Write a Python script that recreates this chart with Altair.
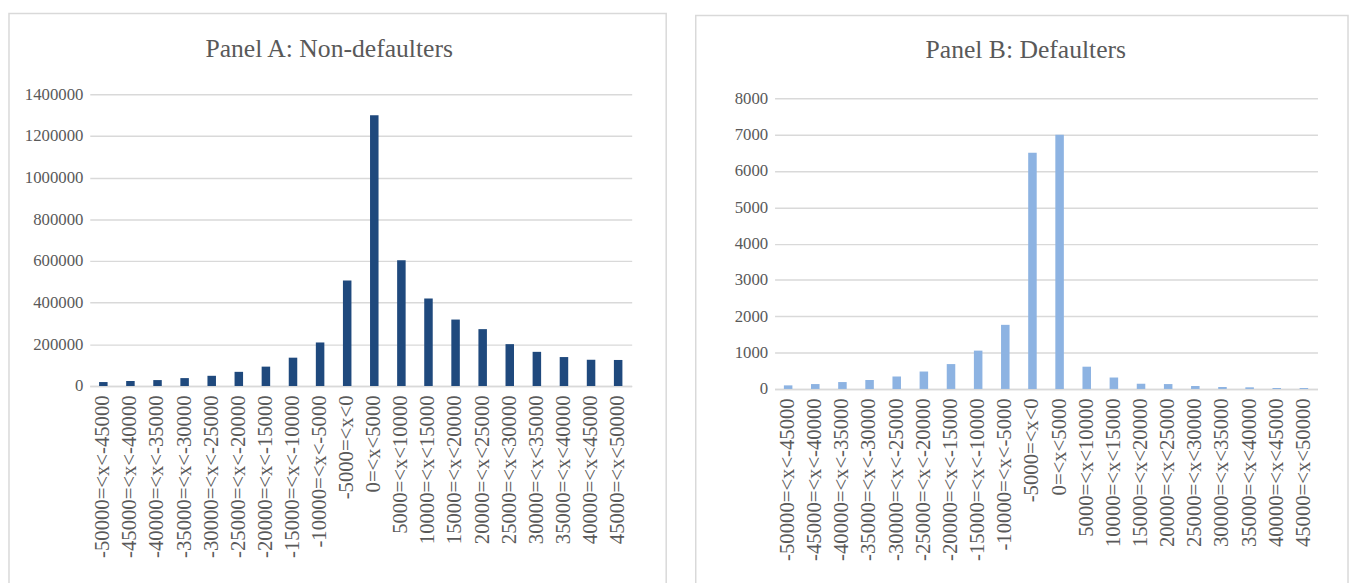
import altair as alt
import pandas as pd

categories = [
    "-50000=<x<-45000", "-45000=<x<-40000", "-40000=<x<-35000", "-35000=<x<-30000",
    "-30000=<x<-25000", "-25000=<x<-20000", "-20000=<x<-15000", "-15000=<x<-10000",
    "-10000=<x<-5000", "-5000=<x<0", "0=<x<5000", "5000=<x<10000", "10000=<x<15000",
    "15000=<x<20000", "20000=<x<25000", "25000=<x<30000", "30000=<x<35000",
    "35000=<x<40000", "40000=<x<45000", "45000=<x<50000",
]
non_defaulters = [19000, 23700, 28500, 38000, 49000, 68000, 93000, 136000, 209000, 507000,
                  1300000, 604000, 420000, 319000, 273000, 201000, 164000, 139000, 126000, 125000]
defaulters = [99, 135, 190, 250, 340, 480, 685, 1055, 1765, 6500,
              7000, 613, 315, 144, 135, 81, 54, 45, 27, 27]
ticks_a = [0, 200000, 400000, 600000, 800000, 1000000, 1200000, 1400000]
ticks_b = [0, 1000, 2000, 3000, 4000, 5000, 6000, 7000, 8000]
title_a = "Panel A: Non-defaulters"
title_b = "Panel B: Defaulters"

FONT = "Liberation Serif"
TXT = "#595959"
GRID = "#d9d9d9"


def panel(values, ticks, color, title, width, height, top, border, title_xy):
    df = pd.DataFrame({"cat": categories, "val": values})
    bars = alt.Chart(df).mark_bar(color=color).encode(
        x=alt.X("cat:N", sort=categories,
                scale=alt.Scale(paddingInner=0.686, paddingOuter=0.343),
                axis=alt.Axis(title=None, labelAngle=270, labelFont=FONT, labelFontSize=21,
                              labelColor=TXT, ticks=False, domainColor=GRID, domainWidth=1.5,
                              labelPadding=9, grid=False, labelOverlap=False)),
        y=alt.Y("val:Q", scale=alt.Scale(domain=[ticks[0], ticks[-1]], nice=False,
                                         range=[height, top]),
                axis=alt.Axis(title=None, values=ticks, format="d", domain=False, ticks=False,
                              gridColor=GRID, gridWidth=1.5, labelFont=FONT, labelFontSize=17,
                              labelColor=TXT, labelPadding=7)),
    )
    frame = alt.Chart(pd.DataFrame({"b": [0]})).mark_rect(
        fillOpacity=0, stroke=GRID, strokeWidth=1.5
    ).encode(
        x=alt.value(border[0]), x2=alt.value(width + border[1]),
        y=alt.value(border[2]), y2=alt.value(height + 240),
    )
    head = alt.Chart(pd.DataFrame({"t": [title]})).mark_text(
        font=FONT, fontSize=26, color=TXT
    ).encode(x=alt.value(title_xy[0]), y=alt.value(title_xy[1]), text="t:N")
    return alt.layer(frame, bars, head).properties(width=width, height=height)


a = panel(non_defaulters, ticks_a, "#1f497d", title_a, 550, 296, 0, (-82, 35, -82), (243, -46))
b = panel(defaulters, ticks_b, "#8db3e2", title_b, 551, 299, 4, (-80, 31, -80), (255, -45))

chart = alt.hconcat(a, b, spacing=28).configure_view(stroke=None).properties(
    padding={"left": 0, "top": 0, "right": 0, "bottom": 0}
)
chart.save("out.html", embed_options={"renderer": "svg", "actions": False})
